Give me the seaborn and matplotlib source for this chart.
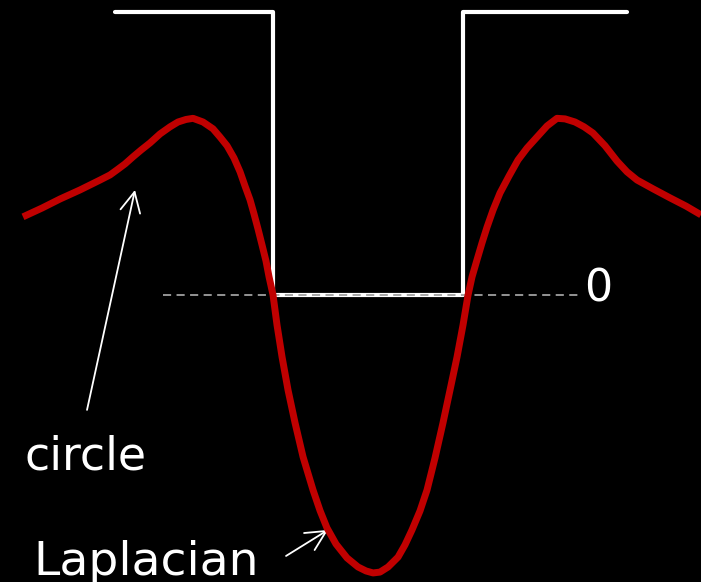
import matplotlib
matplotlib.use("Agg")
import matplotlib.pyplot as plt
import seaborn as sns

# signal units: x = step edges at +-1, y = step height 1
step_x = [-2.663, -1.0, -1.0, 1.0, 1.0, 2.726]
step_y = [1.0, 1.0, 0.0, 0.0, 1.0, 1.0]

zero_x = [-2.158, 2.21]
zero_y = [0.0, 0.0]

# response of the circle
resp_x = [-3.632, -3.432, -3.242, -3.032, -2.821, -2.716, -2.642, -2.558,
          -2.474, -2.389, -2.295, -2.189, -2.084, -2.000, -1.916, -1.842,
          -1.737, -1.632, -1.558, -1.484, -1.411, -1.347, -1.295, -1.242,
          -1.200, -1.158, -1.116, -1.074, -1.042, -1.000,
          -0.958, -0.905, -0.842, -0.768, -0.684, -0.579, -0.505, -0.432,
          -0.337, -0.221, -0.105, -0.021, 0.053, 0.126, 0.211, 0.316,
          0.389, 0.463, 0.547, 0.621, 0.705, 0.789, 0.863, 0.937,
          1.000, 1.053,
          1.095, 1.147, 1.200, 1.253, 1.316, 1.389, 1.484, 1.579,
          1.674, 1.779, 1.884, 1.989, 2.074, 2.179, 2.274, 2.368,
          2.495, 2.621, 2.726, 2.832, 3.000, 3.179, 3.347, 3.505]
resp_y = [0.276, 0.307, 0.339, 0.371, 0.406, 0.424, 0.442, 0.463,
          0.488, 0.512, 0.537, 0.569, 0.594, 0.611, 0.620, 0.624,
          0.611, 0.587, 0.558, 0.527, 0.484, 0.435, 0.385, 0.336,
          0.286, 0.233, 0.177, 0.120, 0.064, 0.000,
          -0.106, -0.219, -0.336, -0.452, -0.572, -0.689, -0.762, -0.823,
          -0.880, -0.929, -0.961, -0.975, -0.982, -0.979, -0.961, -0.926,
          -0.883, -0.830, -0.763, -0.689, -0.576, -0.452, -0.336, -0.219,
          -0.106, 0.000,
          0.064, 0.124, 0.184, 0.240, 0.300, 0.360, 0.420, 0.477,
          0.519, 0.558, 0.597, 0.624, 0.622, 0.611, 0.594, 0.572,
          0.527, 0.473, 0.435, 0.406, 0.375, 0.343, 0.314, 0.283]

sns.set_theme(style="dark", rc={"figure.facecolor": "black", "axes.facecolor": "black"})
plt.rcParams['font.family'] = ['DejaVu Sans']

fig = plt.figure(figsize=(7.01, 5.82), dpi=100)
ax = fig.add_axes([0, 0, 1, 1])

sns.lineplot(x=zero_x, y=zero_y, ax=ax, color="#a0a0a0", lw=1.3,
             estimator=None, sort=False, zorder=3).lines[-1].set_dashes((4.5, 3))
sns.lineplot(x=step_x, y=step_y, ax=ax, color="white", lw=3,
             estimator=None, sort=False, zorder=2)
sns.lineplot(x=resp_x, y=resp_y, ax=ax, color="#c00000", lw=5,
             estimator=None, sort=False, zorder=4)
ax.lines[-1].set_solid_joinstyle("round")
ax.lines[-1].set_solid_capstyle("butt")

arrow = dict(arrowstyle="->,head_length=0.6,head_width=0.3", color="white",
             lw=1.3, shrinkA=0, shrinkB=0)
ax.annotate("", xy=(-2.453, 0.371), xytext=(-2.958, -0.406),
            arrowprops=dict(arrow, mutation_scale=24))
ax.annotate("", xy=(-0.421, -0.830), xytext=(-0.863, -0.922),
            arrowprops=dict(arrow, mutation_scale=24))

ax.text(-3.621, -0.615, "circle", color="white", fontsize=33,
        ha="left", va="baseline")
ax.text(-3.526, -0.99, "Laplacian", color="white", fontsize=34,
        ha="left", va="baseline")
ax.text(2.27, 0.021, "0", color="white", fontsize=32,
        ha="left", va="center")

ax.set_xlim(-3.874, 3.505)
ax.set_ylim(-1.014, 1.042)
ax.axis("off")

fig.savefig("out.png", dpi=100, facecolor="black")
